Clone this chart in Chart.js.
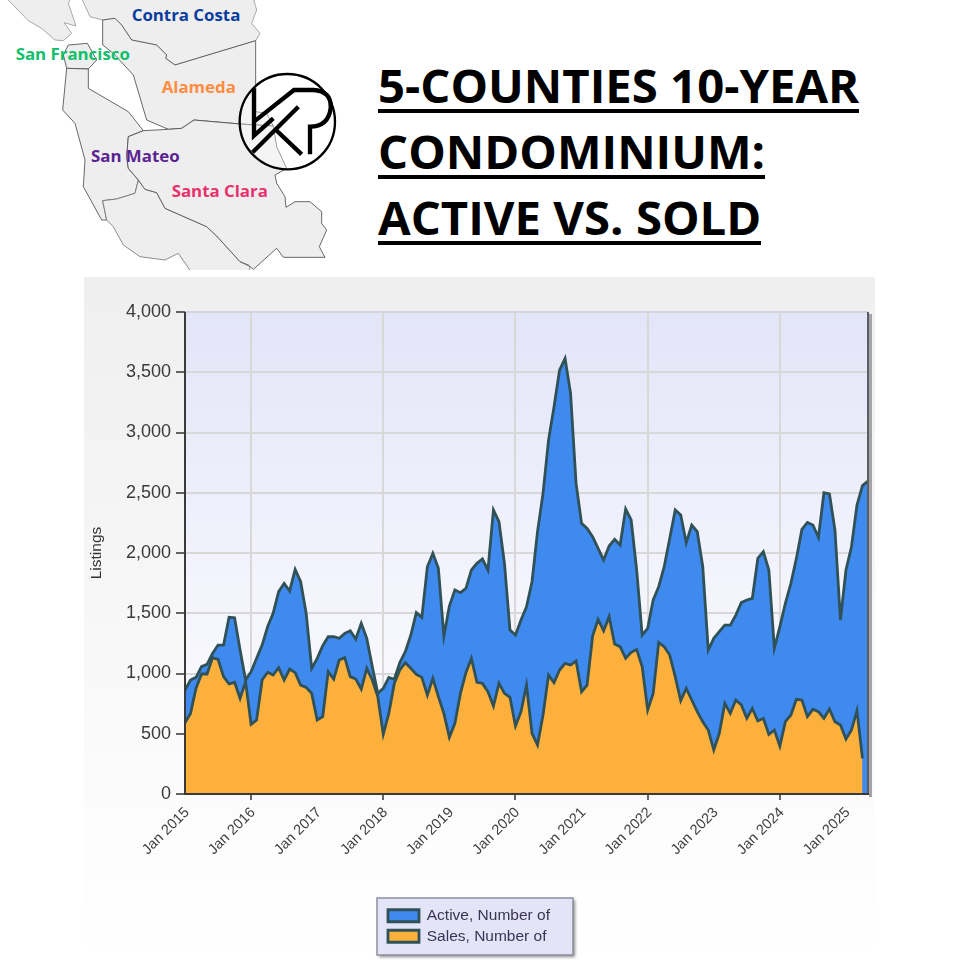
<!DOCTYPE html>
<html>
<head>
<meta charset="utf-8">
<title>5-Counties 10-Year Condominium: Active vs. Sold</title>
<script src="https://cdn.jsdelivr.net/npm/chart.js@4/dist/chart.umd.min.js"></script>
<style>
html,body{margin:0;padding:0;background:#fff;}
body{position:relative;width:960px;height:960px;overflow:hidden;}
#map{position:absolute;left:0;top:0;width:350px;height:270px;}
#map text{font-family:"Open Sans",sans-serif;font-weight:700;font-size:50.5px;}
.title{position:absolute;left:378px;font-family:"Open Sans",sans-serif;font-weight:700;font-size:47.3px;line-height:56px;color:#000;white-space:nowrap;border-bottom:4px solid #000;height:52px;}
#chart{position:absolute;left:84px;top:277px;}
</style>
</head>
<body>

<svg id="map" viewBox="0 0 1050 810">
<g fill="#eeeeee" stroke="#4a4a4a" stroke-width="2.5" stroke-linejoin="round">
<path stroke="#999" d="M20,-5 L85,62 L125,85 L165,120 L190,122 L215,100 L192,68 L228,78 L205,10 L212,-5 Z"/>
<path stroke="#999" d="M245,-5 L270,50 L308,60 L345,55 L365,75 L395,120 L470,135 L500,165 L497,175 L525,195 L767,122 L780,100 L755,70 L770,30 L760,-5 Z"/>
<path d="M308,60 L308,135 L340,160 L400,225 L440,360 L505,388 L545,385 L582,360 L720,372 L820,378 L800,340 L767,335 L767,122 L525,195 L497,175 L500,165 L470,135 L395,120 L365,75 L345,55 Z"/>
<path d="M205,135 L262,130 L290,180 L265,207 L200,205 L190,165 Z"/>
<path d="M200,205 L265,207 L265,265 L385,335 L430,392 L385,410 L380,470 L385,505 L415,540 L405,580 L350,597 L308,602 L320,660 L305,660 L250,560 L255,480 L225,370 L188,330 Z"/>
<path stroke="#777" d="M308,602 L350,597 L405,580 L415,540 L435,568 L470,578 L495,625 L620,680 L650,708 L720,785 L750,800 L745,840 L590,840 L535,760 L495,780 L420,770 L370,735 L340,680 L320,660 Z"/>
<path d="M430,392 L505,388 L545,385 L582,360 L720,372 L820,378 L830,440 L860,505 L825,525 L830,550 L855,590 L858,622 L885,605 L930,605 L965,635 L965,670 L980,690 L958,740 L975,772 L850,772 L830,745 L760,808 L745,795 L720,785 L650,708 L620,680 L495,625 L470,578 L435,568 L415,540 L385,505 L380,470 L385,410 Z"/>
</g>
<text x="395" y="63" fill="#0a3d9e">Contra Costa</text>
<text x="47" y="180" fill="#12bf6b">San Francisco</text>
<text x="485" y="279" fill="#ff8c42">Alameda</text>
<text x="273" y="485" fill="#5b2391">San Mateo</text>
<text x="515" y="591" fill="#e9316e">Santa Clara</text>
<g transform="translate(690,195)" fill="none" stroke="#000">
<circle cx="172" cy="170" r="143" stroke-width="7" fill="#fff" fill-opacity="0.35"/>
<path stroke-width="13" d="M72,70 V212 L130,160"/>
<path stroke-width="13" d="M72,170 L192,75 H250 Q305,78 302,130 Q295,185 240,185 V268"/>
<path stroke-width="13" d="M205,125 L68,262"/>
<path stroke-width="13" d="M138,195 L215,268"/>
</g>
</svg>

<div class="title" style="top:57px">5-COUNTIES 10-YEAR</div>
<div class="title" style="top:123px">CONDOMINIUM:</div>
<div class="title" style="top:189px">ACTIVE VS. SOLD</div>

<canvas id="chart" width="791" height="683"></canvas>

<script>
const months = [
"Jan 2015","Feb 2015","Mar 2015","Apr 2015","May 2015","Jun 2015","Jul 2015","Aug 2015","Sep 2015","Oct 2015","Nov 2015","Dec 2015",
"Jan 2016","Feb 2016","Mar 2016","Apr 2016","May 2016","Jun 2016","Jul 2016","Aug 2016","Sep 2016","Oct 2016","Nov 2016","Dec 2016",
"Jan 2017","Feb 2017","Mar 2017","Apr 2017","May 2017","Jun 2017","Jul 2017","Aug 2017","Sep 2017","Oct 2017","Nov 2017","Dec 2017",
"Jan 2018","Feb 2018","Mar 2018","Apr 2018","May 2018","Jun 2018","Jul 2018","Aug 2018","Sep 2018","Oct 2018","Nov 2018","Dec 2018",
"Jan 2019","Feb 2019","Mar 2019","Apr 2019","May 2019","Jun 2019","Jul 2019","Aug 2019","Sep 2019","Oct 2019","Nov 2019","Dec 2019",
"Jan 2020","Feb 2020","Mar 2020","Apr 2020","May 2020","Jun 2020","Jul 2020","Aug 2020","Sep 2020","Oct 2020","Nov 2020","Dec 2020",
"Jan 2021","Feb 2021","Mar 2021","Apr 2021","May 2021","Jun 2021","Jul 2021","Aug 2021","Sep 2021","Oct 2021","Nov 2021","Dec 2021",
"Jan 2022","Feb 2022","Mar 2022","Apr 2022","May 2022","Jun 2022","Jul 2022","Aug 2022","Sep 2022","Oct 2022","Nov 2022","Dec 2022",
"Jan 2023","Feb 2023","Mar 2023","Apr 2023","May 2023","Jun 2023","Jul 2023","Aug 2023","Sep 2023","Oct 2023","Nov 2023","Dec 2023",
"Jan 2024","Feb 2024","Mar 2024","Apr 2024","May 2024","Jun 2024","Jul 2024","Aug 2024","Sep 2024","Oct 2024","Nov 2024","Dec 2024",
"Jan 2025","Feb 2025","Mar 2025","Apr 2025","May 2025"];

const active = [
863,946,968,1057,1076,1167,1236,1236,1466,1463,1195,946,
1015,1126,1236,1388,1499,1679,1748,1685,1864,1762,1499,1043,
1126,1231,1305,1305,1292,1333,1355,1286,1416,1292,1057,835,
877,968,952,1090,1181,1319,1505,1466,1886,1997,1873,1311,
1560,1693,1671,1707,1859,1914,1950,1859,2357,2260,1914,1361,
1319,1444,1554,1762,2177,2495,2937,3214,3518,3615,3325,2578,
2246,2204,2135,2039,1942,2058,2113,2066,2365,2274,1859,1319,
1375,1610,1720,1886,2121,2357,2315,2085,2232,2177,1886,1195,
1292,1347,1402,1402,1485,1588,1610,1624,1955,2011,1859,1209,
1389,1582,1748,1955,2196,2254,2232,2130,2500,2490,2191,1444,
1859,2052,2398,2559,2597];

const sales = [
592,669,877,996,996,1131,1117,974,913,927,794,932,
578,614,946,1010,987,1048,946,1037,1007,904,885,835,
614,642,1015,954,1112,1131,974,954,871,1043,946,808,
495,669,918,1029,1090,1043,993,968,821,960,808,669,
470,586,835,1007,1126,927,918,849,730,918,835,802,
564,683,904,503,407,656,987,924,1029,1084,1070,1104,
849,904,1311,1449,1355,1472,1245,1223,1126,1176,1200,1057,
697,835,1256,1223,1153,974,775,877,780,683,600,531,
365,503,752,669,780,739,628,711,606,628,495,531,
398,600,656,786,780,642,703,683,628,705,600,573,
456,531,692,296,null];

const yMax = 4000;
const yStep = 500;
const seriesNames = ["Active, Number of","Sales, Number of"];
const outline = "#2f5157";

const chromePlugin = {
  id:"chrome",
  beforeDraw(chart){
    const {ctx,width,height,chartArea:a,legend:l} = chart;
    ctx.save();
    let g = ctx.createLinearGradient(0,0,0,height);
    g.addColorStop(0,"#efefef");
    g.addColorStop(0.85,"#fdfdfd");
    g.addColorStop(1,"#ffffff");
    ctx.fillStyle = g;
    ctx.fillRect(0,0,width,height);
    g = ctx.createLinearGradient(0,a.top,0,a.bottom);
    g.addColorStop(0,"#e3e5f8");
    g.addColorStop(1,"#ffffff");
    ctx.fillStyle = g;
    ctx.fillRect(a.left,a.top,a.right-a.left,a.bottom-a.top);
    ctx.shadowColor = "rgba(0,0,0,0.45)";
    ctx.shadowBlur = 3;
    ctx.shadowOffsetX = 2;
    ctx.shadowOffsetY = 2;
    ctx.fillStyle = "#e4e4f8";
    ctx.fillRect(l.left-6,l.top-5,196,57);
    ctx.shadowColor = "transparent";
    ctx.strokeStyle = "#8f8f9f";
    ctx.lineWidth = 1.5;
    ctx.strokeRect(l.left-6,l.top-5,196,57);
    ctx.restore();
  },
  afterLayout(chart){
    const l = chart.legend;
    l.left = 299; l.top = 626;
    l.right = l.left+190; l.bottom = l.top+57;
  },
  afterDraw(chart){
    const {ctx,chartArea:a} = chart;
    ctx.save();
    ctx.fillStyle = "#d2d3e0";
    ctx.fillRect(a.left,a.top-1,a.right-a.left,1.5);
    ctx.fillStyle = "#5a5f63";
    ctx.fillRect(a.right-1,a.top,2,a.bottom-a.top+1);
    ctx.fillStyle = "#a5a5a8";
    ctx.fillRect(a.right+1,a.top+2,3,a.bottom-a.top+1);
    ctx.fillStyle = "#3a3a3a";
    ctx.fillRect(a.left-1,a.top,2,a.bottom-a.top+1);
    ctx.fillRect(a.left-1,a.bottom-1,a.right-a.left+2,2);
    ctx.restore();
  }
};

new Chart(document.getElementById("chart"),{
  type:"line",
  plugins:[chromePlugin],
  data:{
    labels:months,
    datasets:[
      {label:seriesNames[0],data:active,backgroundColor:"#3f8aef",borderColor:outline,borderWidth:2.8,fill:"origin",order:2,pointRadius:0,tension:0},
      {label:seriesNames[1],data:sales,backgroundColor:"#fdb13c",borderColor:outline,borderWidth:2.8,fill:"origin",order:1,pointRadius:0,tension:0}
    ]
  },
  options:{
    responsive:false,
    animation:false,
    layout:{padding:{top:35,right:7,left:0,bottom:0}},
    plugins:{
      tooltip:{enabled:false},
      title:{display:false},
      legend:{
        position:"chartArea",
        align:"start",
        labels:{
          boxWidth:31,boxHeight:12,padding:5,
          sort:(a,b)=>a.datasetIndex-b.datasetIndex,
          color:"#3a3355",
          font:{family:"Liberation Sans",size:15.5}
        }
      }
    },
    scales:{
      x:{
        afterFit(s){s.height = 166;},
        afterBuildTicks(s){s.ticks = s.ticks.filter(t=>t.value%12===0);},
        border:{display:false},
        grid:{
          color:c=>(c.tick && c.tick.value%24===12)?"#d8d8d8":"transparent",
          tickColor:c=>(c.tick && c.tick.value%24===12)?"#333333":"transparent",
          lineWidth:2,tickWidth:1.5,tickLength:6
        },
        ticks:{
          autoSkip:false,minRotation:45,maxRotation:45,padding:4,labelOffset:2,
          color:"#404040",
          font:{family:"Liberation Sans",size:14.5}
        }
      },
      y:{
        min:0,max:yMax,
        afterFit(s){s.width = 101;},
        border:{display:false},
        title:{display:true,text:"Listings",color:"#333333",padding:{top:3,bottom:0},font:{family:"Liberation Sans",size:15.5}},
        grid:{color:"#d8d8d8",lineWidth:2,tickColor:"#333333",tickWidth:1.5,tickLength:9},
        ticks:{
          stepSize:yStep,padding:5,color:"#3a3a3a",
          font:{family:"Liberation Sans",size:18}
        }
      }
    }
  }
});
</script>
</body>
</html>
